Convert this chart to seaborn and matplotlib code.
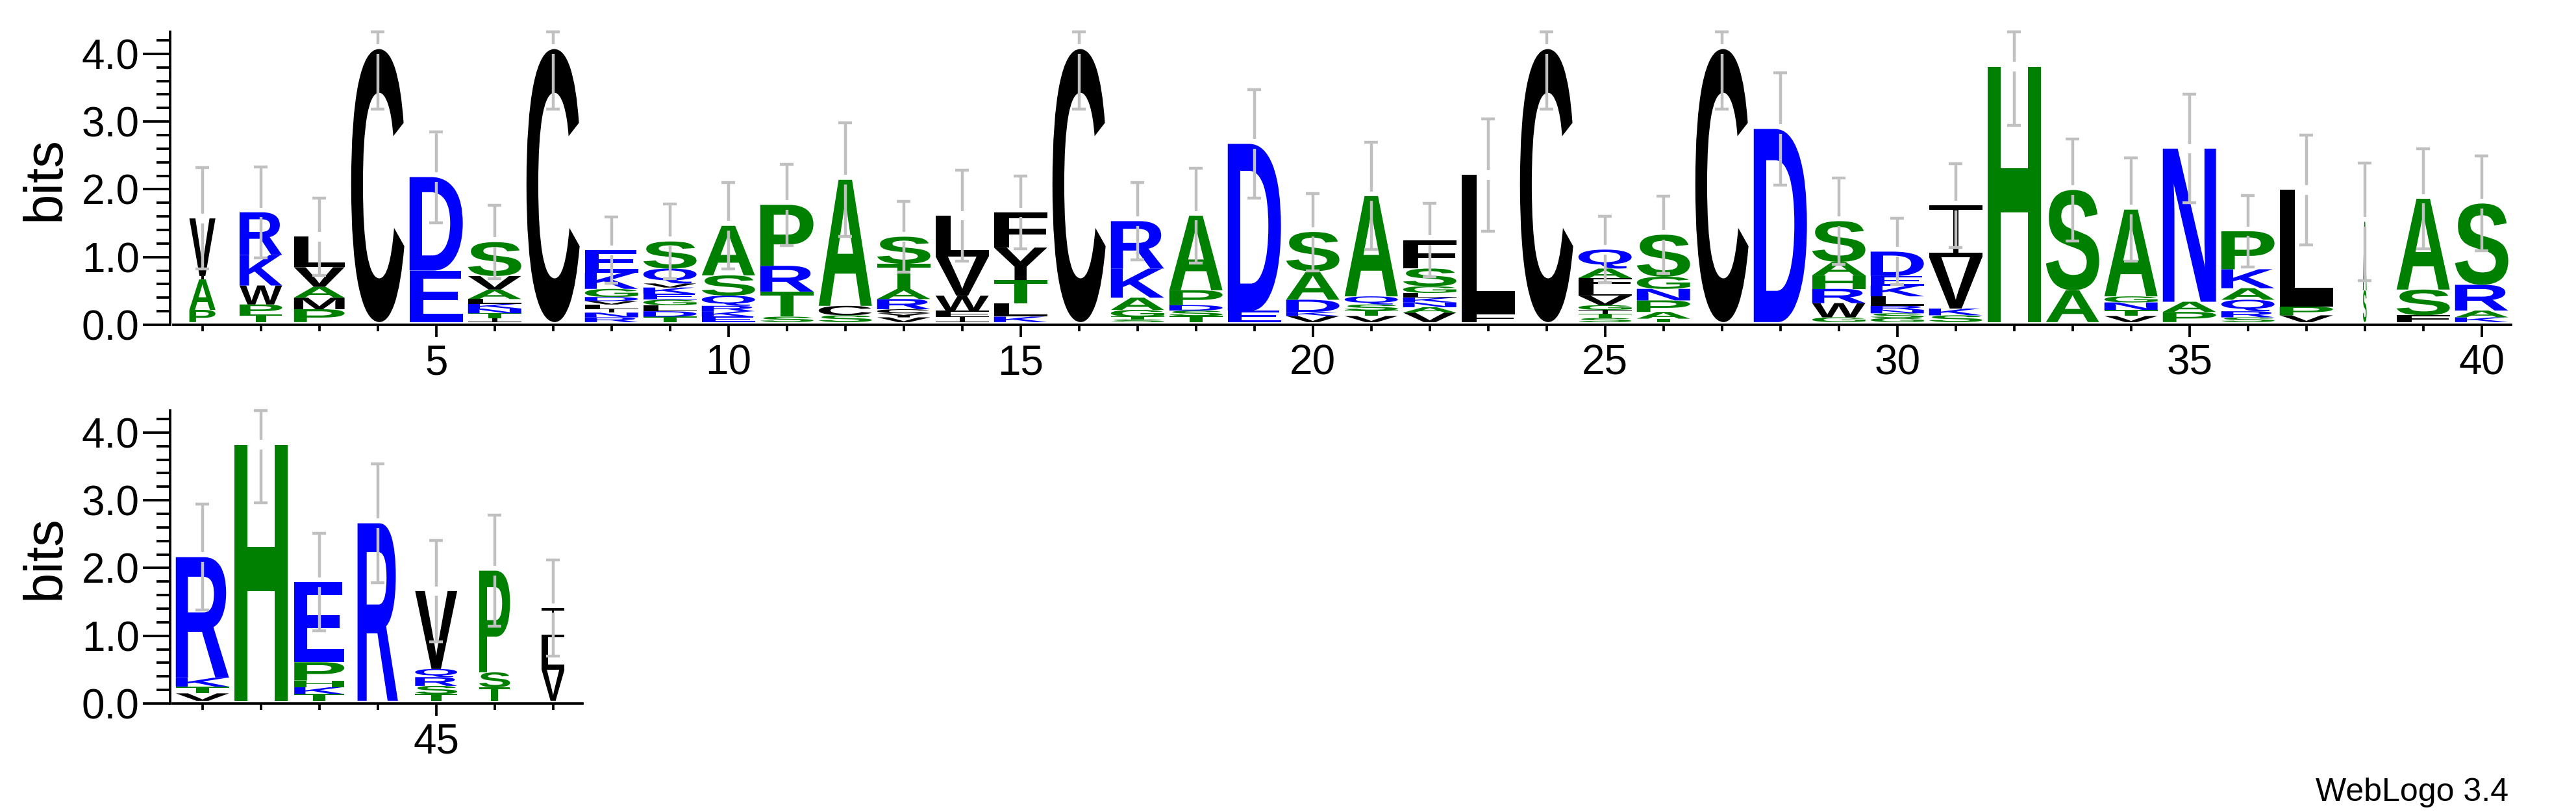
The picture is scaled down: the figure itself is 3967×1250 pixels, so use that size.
import numpy as np
import matplotlib
matplotlib.use("Agg")
import matplotlib.pyplot as plt
import seaborn as sns
from matplotlib.font_manager import FontProperties
from matplotlib.textpath import TextPath
from matplotlib.patches import PathPatch
from matplotlib.path import Path
from matplotlib.transforms import Affine2D
from matplotlib.ticker import FixedLocator

# ------------------------------------------------------------
# data: one entry per position, letters bottom -> top
# ------------------------------------------------------------
positions = list(range(1, 48))

stack_letters = [
    "PAIV", "TPWKR", "PMAVL", "C", "ED", "ITNKLAVS", "C", "RNILVDGKE",
    "TDLGEKVQS", "EKRQSA", "STRP", "SCA", "VYCRATS", "IFWVL", "KLTYF", "C",
    "STGAKR", "TSDPA", "ED", "VKDAS", "VTSQA", "VANKLGSF", "FL", "C",
    "STIGVLFAQ", "TAPNGS", "C", "D", "GWRHAS", "GSNRLKED", "SKVI", "H",
    "AS", "VTNGA", "PAN", "SRQAKP", "VPL", "SA", "FSA", "KARS",
    "VTKR", "H", "TKHPE", "R", "TSRQV", "TSP", "VLI",
]

stack_heights = [
    [0.18, 0.45, 0.05, 0.85], [0.11, 0.15, 0.28, 0.45, 0.63], [0.19, 0.17, 0.16, 0.29, 0.45],
    [4.03], [0.76, 1.38], [0.06, 0.07, 0.07, 0.07, 0.07, 0.14, 0.20, 0.50], [4.03],
    [0.07, 0.07, 0.05, 0.07, 0.05, 0.06, 0.12, 0.24, 0.33],
    [0.08, 0.08, 0.09, 0.08, 0.09, 0.09, 0.06, 0.22, 0.40],
    [0.08, 0.08, 0.08, 0.15, 0.30, 0.73], [0.08, 0.37, 0.38, 0.90], [0.10, 0.14, 1.86],
    [0.07, 0.06, 0.06, 0.15, 0.15, 0.37, 0.40], [0.08, 0.09, 0.22, 0.58, 0.60],
    [0.08, 0.20, 0.34, 0.48, 0.52], [4.03],
    [0.04, 0.04, 0.10, 0.18, 0.43, 0.70], [0.09, 0.08, 0.08, 0.22, 1.10], [0.17, 2.46],
    [0.09, 0.06, 0.18, 0.42, 0.58], [0.09, 0.08, 0.09, 0.12, 1.48],
    [0.14, 0.08, 0.07, 0.07, 0.07, 0.10, 0.26, 0.42], [0.13, 2.04], [4.03],
    [0.06, 0.06, 0.06, 0.07, 0.14, 0.13, 0.13, 0.14, 0.28],
    [0.05, 0.10, 0.17, 0.17, 0.18, 0.62], [4.03], [2.85],
    [0.07, 0.21, 0.21, 0.20, 0.20, 0.60], [0.06, 0.07, 0.05, 0.06, 0.14, 0.16, 0.14, 0.36],
    [0.10, 0.10, 0.76, 0.76], [3.77],
    [0.47, 1.48], [0.09, 0.09, 0.11, 0.09, 1.28], [0.15, 0.15, 2.26],
    [0.07, 0.09, 0.17, 0.17, 0.28, 0.56], [0.10, 0.13, 1.72], [0.47, 1.01],
    [0.10, 0.38, 1.34], [0.07, 0.10, 0.38, 1.20],
    [0.11, 0.10, 0.13, 1.78], [3.78], [0.10, 0.10, 0.10, 0.27, 1.18], [2.62],
    [0.10, 0.12, 0.13, 0.12, 1.15], [0.20, 0.22, 1.50], [0.46, 0.48, 0.43],
]

error_bars = [
    0.75, 0.67, 0.57, 0.89, 0.67, 0.54, 0.89, 0.49, 0.55, 0.64,
    0.60, 0.84, 0.52, 0.67, 0.54, 0.89, 0.57, 0.70, 0.80, 0.57,
    0.79, 0.54, 0.83, 0.89, 0.49, 0.57, 0.89, 0.83, 0.64, 0.49,
    0.62, 0.87, 0.75, 0.76, 0.80, 0.53, 0.81, 0.87, 0.74, 0.70,
    0.78, 0.86, 0.72, 0.88, 0.75, 0.82, 0.71,
]

# relative column width (gappy columns are drawn narrower)
stack_widths = [
    0.49, 0.80, 0.95, 1, 1, 1, 1, 1, 1, 1,
    1, 1, 1, 1, 1, 1, 1, 1, 1, 1,
    1, 1, 1, 1, 1, 1, 1, 1, 1, 1,
    1, 1, 1, 1, 1, 1, 1, 0.07, 1, 1,
    1, 1, 0.94, 0.76, 0.79, 0.58, 0.43,
]

# hydrophobicity colour scheme
BLUE, GREEN, BLACK = "#0000ff", "#008000", "#000000"
aa_colors = {}
for aa in "RKDENQ":
    aa_colors[aa] = BLUE
for aa in "SGHTAP":
    aa_colors[aa] = GREEN
for aa in "YVMCLFIW":
    aa_colors[aa] = BLACK

MAX_BITS = np.log2(20)

# ------------------------------------------------------------
# geometry (pixels of the 3967 x 1250 output)
# ------------------------------------------------------------
W, H = 3967, 1250
COL = 90.0        # px per position
BIT = 104.3       # px per bit
AXIS_X = 262.0    # y-axis line
POS1_X = 311.7    # centre of position 1
FULL_W = 0.91     # letter box width in data units
BASE = 0.04       # letters sit a hair above the x-axis line
GAP = 0.07        # white gap in the error bar at the stack top
CAP = 0.115
ERR_C = "#c0c0c0"

sns.set_theme(style="ticks")
plt.rcParams["font.family"] = ["Liberation Sans", "DejaVu Sans"]
plt.rcParams["text.color"] = "black"
plt.rcParams["axes.edgecolor"] = "black"
plt.rcParams["xtick.color"] = "black"
plt.rcParams["ytick.color"] = "black"

fig = plt.figure(figsize=(W / 100, H / 100), dpi=100)

letter_font = FontProperties(family="Liberation Sans", weight="bold")
_glyphs = {}


def glyph(ch):
    if ch not in _glyphs:
        if ch == "I":
            # WebLogo draws I with bars top and bottom
            b, s = 0.08, 0.05
            rects = [(0, 0, 1, b), (0, 1 - b, 1, 1), (0.5 - s, 0, 0.5 + s, 1)]
            verts, codes = [], []
            for x0, y0, x1, y1 in rects:
                verts += [(x0, y0), (x1, y0), (x1, y1), (x0, y1), (x0, y0)]
                codes += [Path.MOVETO, Path.LINETO, Path.LINETO, Path.LINETO, Path.CLOSEPOLY]
            p = Path(verts, codes)
        else:
            p = TextPath((0, 0), ch, size=1, prop=letter_font)
        _glyphs[ch] = (p, p.get_extents())
    return _glyphs[ch]


def draw_letter(ax, ch, x, y, w, h):
    p, ext = glyph(ch)
    t = (Affine2D().translate(-ext.x0, -ext.y0)
         .scale(w / ext.width, h / ext.height)
         .translate(x - w / 2, y))
    ax.add_patch(PathPatch(t.transform_path(p), fc=aa_colors[ch], ec="none", lw=0))


def draw_stack(ax, x, letters, heights, err, wfrac):
    y = BASE
    w = FULL_W * wfrac
    for ch, h in zip(letters, heights):
        draw_letter(ax, ch, x, y, w, h)
        y += h
    top = y
    lo, hi = top - err, min(top + err, MAX_BITS)
    kw = dict(color=ERR_C, lw=3.2, zorder=5, clip_on=False)
    ax.vlines([x, x], [lo, top + GAP], [top - GAP, hi], **kw)
    ax.hlines([lo, hi], x - CAP, x + CAP, **kw)


def make_axes(zero_y, x_lo, x_hi):
    rect = [AXIS_X / W, (H - zero_y) / H, (x_hi - x_lo) * COL / W, MAX_BITS * BIT / H]
    ax = fig.add_axes(rect)
    ax.set_xlim(x_lo, x_hi)
    ax.set_ylim(0, MAX_BITS)
    sns.despine(ax=ax)
    ax.spines["left"].set_bounds(0, MAX_BITS)
    ax.spines["bottom"].set_bounds(x_lo + 0.05, x_hi)
    for s in ("left", "bottom"):
        ax.spines[s].set_linewidth(2.7)
    ax.set_yticks([0, 1, 2, 3, 4])
    ax.set_yticklabels(["0.0", "1.0", "2.0", "3.0", "4.0"])
    ax.yaxis.set_minor_locator(FixedLocator(np.arange(0, 4.3, 0.2)))
    ax.tick_params(axis="y", which="major", length=30, width=2.7, pad=4, labelsize=46)
    ax.tick_params(axis="y", which="minor", length=15, width=2.7)
    ax.tick_params(axis="x", which="major", length=14, width=2.7, pad=7, labelsize=46)
    ax.tick_params(axis="x", which="minor", length=7, width=2.7)
    ax.grid(False)
    ax.set_facecolor("none")
    fig.text(70 / W, (H - zero_y + MAX_BITS * BIT / 2) / H, "bits",
             rotation=90, ha="center", va="center", fontsize=60)
    return ax


offset = 1 + (AXIS_X - POS1_X) / COL   # 0.448
rows = [
    (500.0, offset, 40.5, positions[:40]),
    (1083.0, 40 + offset, 47.5, positions[40:]),
]

for zero_y, x_lo, x_hi, row_pos in rows:
    ax = make_axes(zero_y, x_lo, x_hi)
    labeled = [p for p in row_pos if p % 5 == 0]
    ax.set_xticks(labeled)
    ax.set_xticklabels([str(p) for p in labeled])
    ax.xaxis.set_minor_locator(FixedLocator(row_pos))
    for p in row_pos:
        i = p - 1
        draw_stack(ax, p, stack_letters[i], stack_heights[i], error_bars[i], stack_widths[i])

fig.text(3863 / W, 1 - 1233 / H, "WebLogo 3.4", ha="right", va="baseline", fontsize=36)

fig.savefig("out.png", dpi=100)
